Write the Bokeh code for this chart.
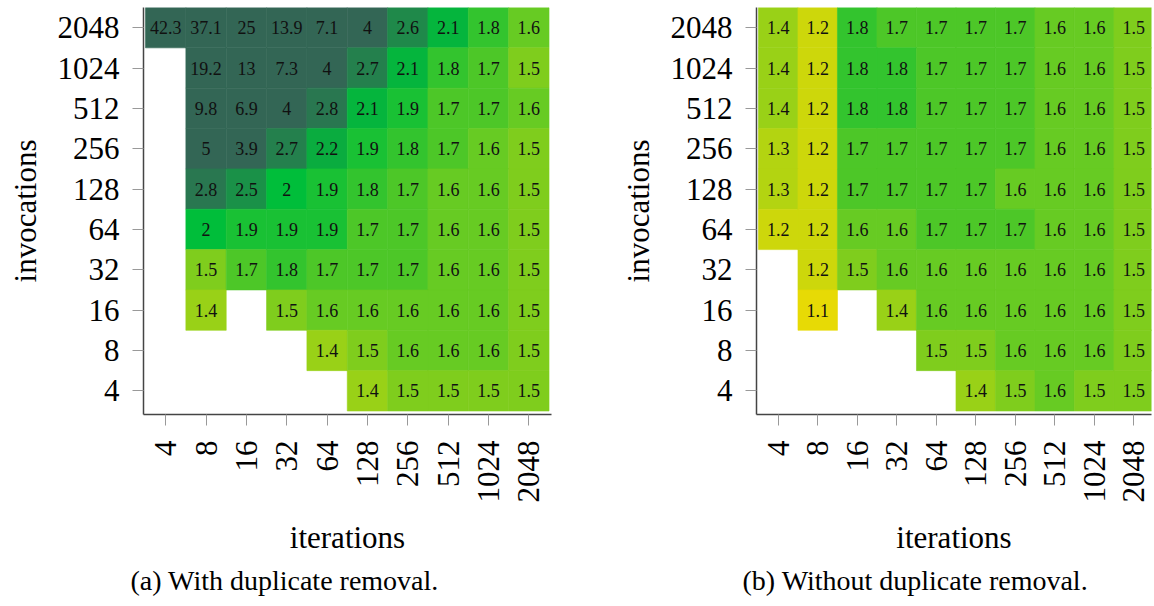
import math
from bokeh.plotting import figure
from bokeh.models import LinearColorMapper, FixedTicker, ColumnDataSource, Title, Range1d
from bokeh.layouts import row
from bokeh.embed import file_html
from bokeh.resources import INLINE
from bokeh.core.properties import value

# ---------------- data ----------------
iterations = ["4", "8", "16", "32", "64", "128", "256", "512", "1024", "2048"]
invocations = ["4", "8", "16", "32", "64", "128", "256", "512", "1024", "2048"]  # bottom -> top

# rows listed top (2048 invocations) to bottom (4 invocations); columns = iterations 4..2048
with_dup = [
    [42.3, 37.1, 25, 13.9, 7.1, 4, 2.6, 2.1, 1.8, 1.6],
    [None, 19.2, 13, 7.3, 4, 2.7, 2.1, 1.8, 1.7, 1.5],
    [None, 9.8, 6.9, 4, 2.8, 2.1, 1.9, 1.7, 1.7, 1.6],
    [None, 5, 3.9, 2.7, 2.2, 1.9, 1.8, 1.7, 1.6, 1.5],
    [None, 2.8, 2.5, 2, 1.9, 1.8, 1.7, 1.6, 1.6, 1.5],
    [None, 2, 1.9, 1.9, 1.9, 1.7, 1.7, 1.6, 1.6, 1.5],
    [None, 1.5, 1.7, 1.8, 1.7, 1.7, 1.7, 1.6, 1.6, 1.5],
    [None, 1.4, None, 1.5, 1.6, 1.6, 1.6, 1.6, 1.6, 1.5],
    [None, None, None, None, 1.4, 1.5, 1.6, 1.6, 1.6, 1.5],
    [None, None, None, None, None, 1.4, 1.5, 1.5, 1.5, 1.5],
]
without_dup = [
    [1.4, 1.2, 1.8, 1.7, 1.7, 1.7, 1.7, 1.6, 1.6, 1.5],
    [1.4, 1.2, 1.8, 1.8, 1.7, 1.7, 1.7, 1.6, 1.6, 1.5],
    [1.4, 1.2, 1.8, 1.8, 1.7, 1.7, 1.7, 1.6, 1.6, 1.5],
    [1.3, 1.2, 1.7, 1.7, 1.7, 1.7, 1.7, 1.6, 1.6, 1.5],
    [1.3, 1.2, 1.7, 1.7, 1.7, 1.7, 1.6, 1.6, 1.6, 1.5],
    [1.2, 1.2, 1.6, 1.6, 1.7, 1.7, 1.7, 1.6, 1.6, 1.5],
    [None, 1.2, 1.5, 1.6, 1.6, 1.6, 1.6, 1.6, 1.6, 1.5],
    [None, 1.1, None, 1.4, 1.6, 1.6, 1.6, 1.6, 1.6, 1.5],
    [None, None, None, None, 1.5, 1.5, 1.6, 1.6, 1.6, 1.5],
    [None, None, None, None, None, 1.4, 1.5, 1.6, 1.5, 1.5],
]
captions = ["(a) With duplicate removal.", "(b) Without duplicate removal."]

# ---------------- colour map ----------------
anchors = [(255, 221, 0), (0, 190, 58), (51, 102, 85)]  # at 1.0, 2.0, 3.0
palette = []
N = 256
for i in range(N):
    t = i / (N - 1) * 2.0
    k = min(int(t), 1)
    f = t - k
    c0, c1 = anchors[k], anchors[k + 1]
    rgb = tuple(int(round(c0[j] + (c1[j] - c0[j]) * f)) for j in range(3))
    palette.append("#%02x%02x%02x" % rgb)
mapper = LinearColorMapper(palette=palette, low=1.0, high=3.0)

FONT = "Liberation Serif"
VUNIT = 40.35
HEIGHT = 604
TOP = 7
FRAME_H = 407


def make_fig(data, caption, width, frame_w, border_left, cap_offset, unit):
    xs, ys, vs, ts = [], [], [], []
    for r, rowvals in enumerate(data):
        for c, v in enumerate(rowvals):
            if v is None:
                continue
            xs.append(c)
            ys.append(9 - r)
            vs.append(v)
            ts.append(f"{v:g}")
    src = ColumnDataSource(dict(x=xs, y=ys, v=vs, t=ts))

    x0 = -0.55
    x1 = x0 + frame_w / unit
    y1 = 9.5
    y0 = y1 - FRAME_H / VUNIT
    p = figure(width=width, height=HEIGHT, output_backend="svg", toolbar_location=None,
               x_range=Range1d(x0, x1), y_range=Range1d(y0, y1),
               min_border_left=border_left, min_border_right=width - border_left - frame_w,
               min_border_top=TOP, min_border_bottom=HEIGHT - FRAME_H - TOP)
    p.rect(x="x", y="y", width=1, height=1, source=src,
           fill_color={"field": "v", "transform": mapper},
           line_color={"field": "v", "transform": mapper}, line_width=0.6)
    p.text(x="x", y="y", text="t", source=src, text_align="center", text_baseline="middle",
           text_font=value(FONT), text_font_size="18px", text_color="#111111")

    p.grid.visible = False
    p.outline_line_color = None
    p.background_fill_color = "white"

    for ax, lbls, name in ((p.xaxis[0], iterations, "iterations"),
                           (p.yaxis[0], invocations, "invocations")):
        ax.ticker = FixedTicker(ticks=list(range(10)))
        ax.major_label_overrides = {i: l for i, l in enumerate(lbls)}
        ax.minor_tick_line_color = None
        ax.major_tick_in = 0
        ax.major_tick_out = 11
        ax.major_tick_line_color = "#999999"
        ax.axis_line_color = "#444444"
        ax.axis_line_width = 1.5
        ax.major_label_text_font = FONT
        ax.major_label_text_font_size = "31px"
        ax.major_label_text_color = "black"
        ax.axis_label = name
        ax.axis_label_text_font = FONT
        ax.axis_label_text_font_size = "31px"
        ax.axis_label_text_font_style = "normal"
        ax.axis_label_text_color = "black"
    p.xaxis[0].major_label_orientation = math.pi / 2
    p.xaxis[0].major_label_standoff = 15
    p.xaxis[0].axis_label_standoff = 14
    p.yaxis[0].major_label_standoff = 13
    p.yaxis[0].axis_label_standoff = 12

    t = Title(text=caption, align="left", offset=cap_offset, text_font=FONT,
              text_font_size="28px", text_font_style="normal", text_color="black",
              standoff=10)
    p.add_layout(t, "below")
    return p


p1 = make_fig(with_dup, captions[0], 617, 408, 143, -13, 40.35)
p2 = make_fig(without_dup, captions[1], 535, 398, 136, -14, 39.8)
layout = row(p1, p2)

open("out.html", "w").write(file_html(layout, INLINE))
